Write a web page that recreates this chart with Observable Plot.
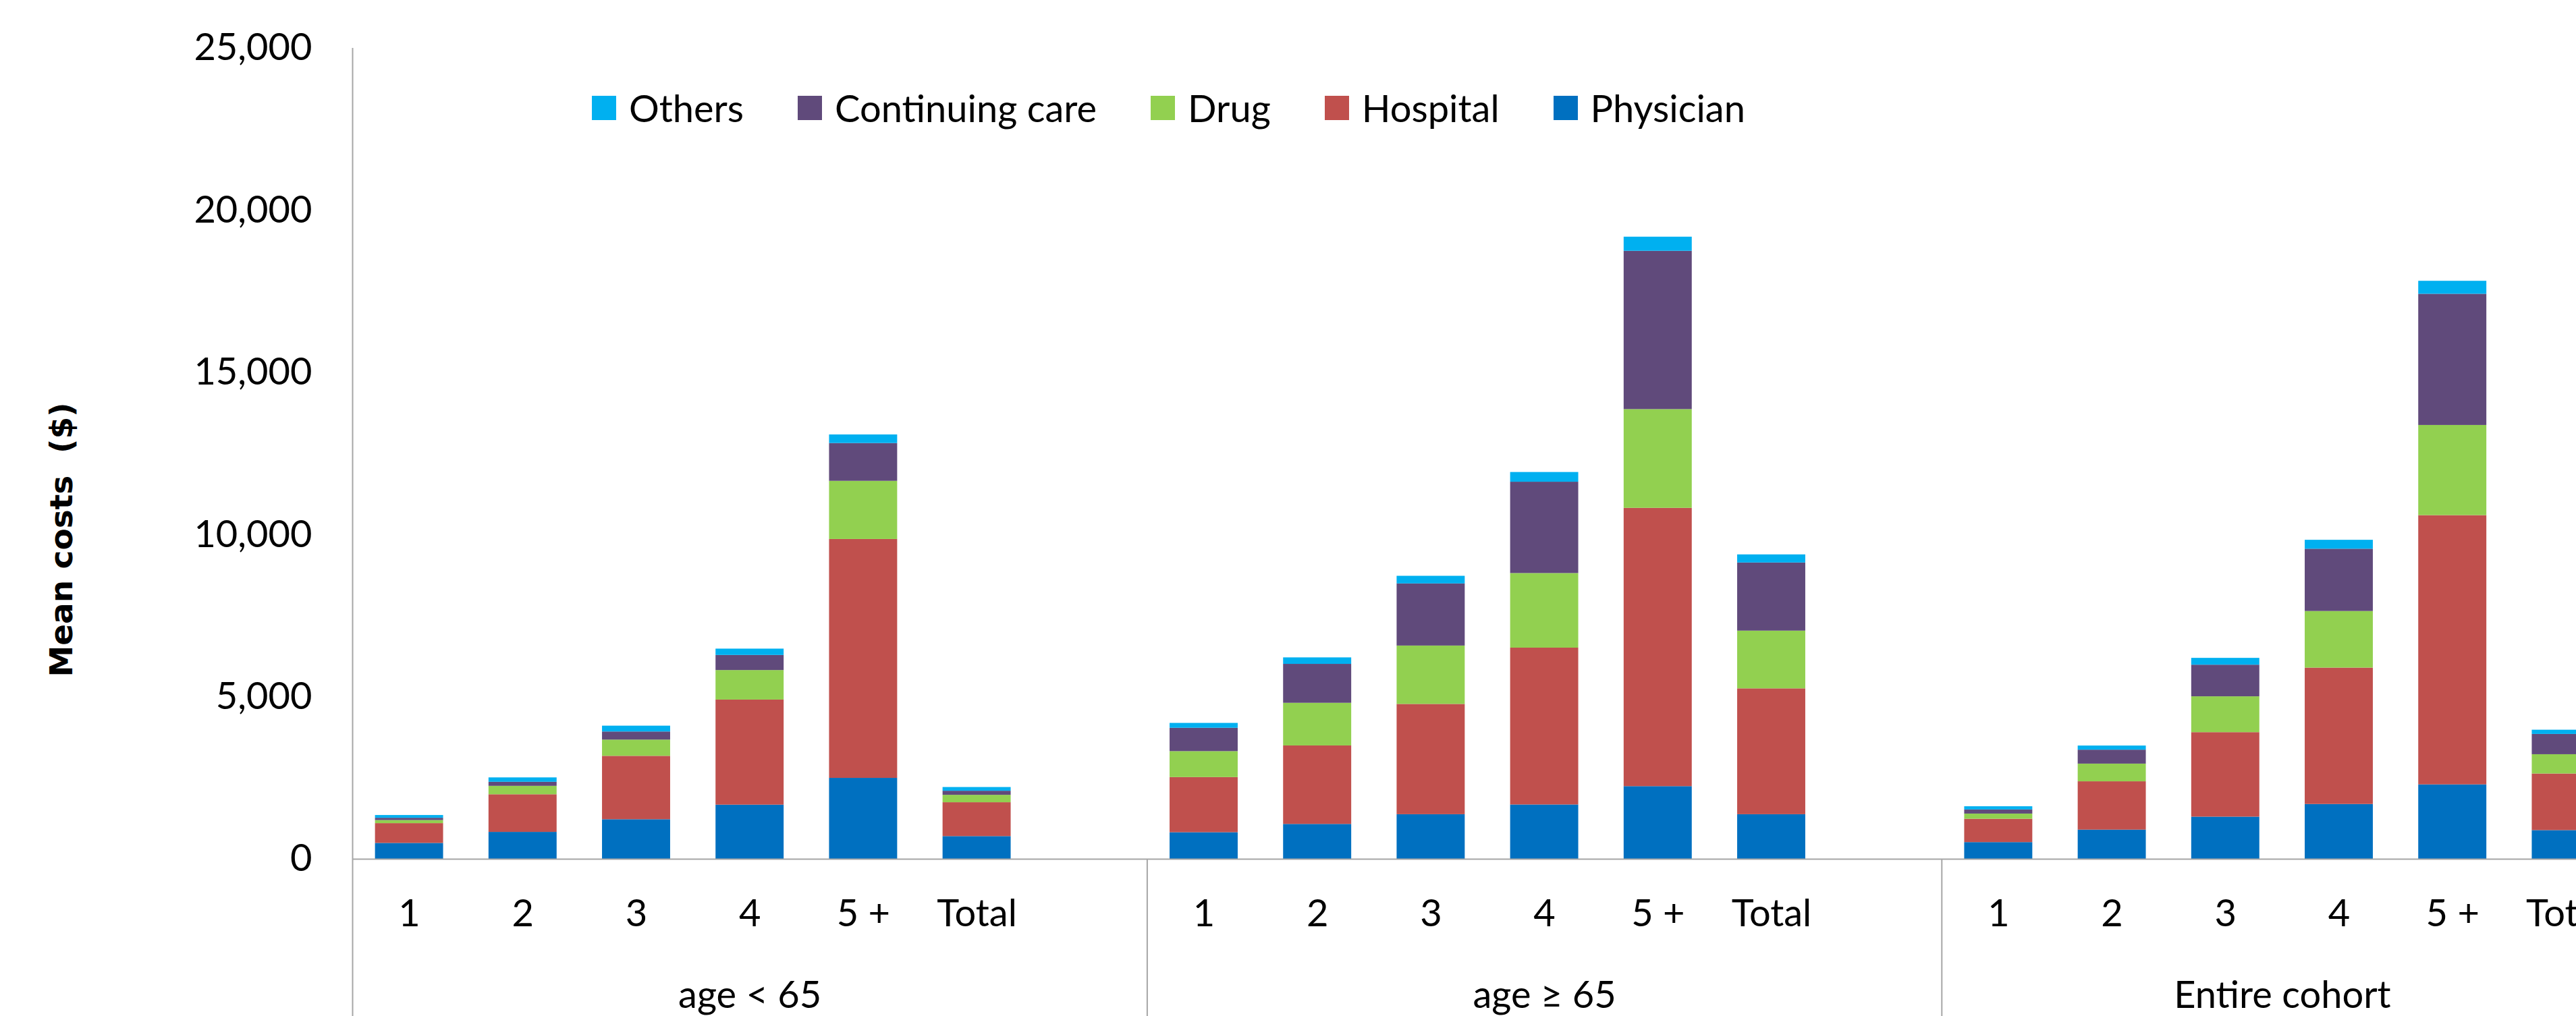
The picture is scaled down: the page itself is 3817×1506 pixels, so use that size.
<!DOCTYPE html>
<html>
<head>
<meta charset="utf-8">
<script src="https://cdn.jsdelivr.net/npm/d3@7"></script>
<script src="https://cdn.jsdelivr.net/npm/@observablehq/plot@0.6"></script>
<style>
  html, body { margin: 0; padding: 0; overflow: hidden; background: #fff; }
  #wrap { position: relative; width: 3887px; height: 1506px; font-family: Lato, "Open Sans", sans-serif; }
  #legend { position: absolute; top: 142px; left: 877px; display: flex; align-items: center; gap: 80px;
            font-size: 56px; line-height: 36px; color: #000; white-space: nowrap; z-index: 2; }
  .item { display: flex; align-items: center; gap: 19px; }
  .sw { width: 36px; height: 36px; display: inline-block; }
  #ytitle { position: absolute; left: 90px; top: 800px; transform: translate(-50%, -50%) rotate(-90deg);
            font-family: "DejaVu Sans", Verdana, sans-serif; font-weight: bold; font-size: 47px;
            white-space: pre; color: #000; line-height: 1; z-index: 2; }
</style>
</head>
<body>
<div id="wrap"><div id="legend"></div><div id="ytitle"></div></div>
<script>
// ---- data ----
const groups = ["age < 65", "age \u2265 65", "Entire cohort"];
const categories = ["1", "2", "3", "4", "5 +", "Total"];
// the first two groups carry a trailing blank category on the axis
const groupCategories = [[...categories, ""], [...categories, ""], [...categories]];
const series = ["Physician", "Hospital", "Drug", "Continuing care", "Others"];
const colors = ["#0070C0", "#C0504D", "#92D050", "#604A7B", "#00B0F0"];
const yTicks = [0, 5000, 10000, 15000, 20000, 25000];
const yTitle = "Mean costs  ($)";

// values by group (age<65, age>=65, entire) x category (1,2,3,4,5+,Total)
const physician  = [490, 830, 1220, 1670, 2495, 700,   820, 1075, 1375, 1675, 2240, 1375,   515, 900, 1300, 1690, 2295, 885];
const hospital   = [610, 1160, 1955, 3240, 7365, 1045, 1700, 2420, 3400, 4835, 8580, 3880,   720, 1490, 2605, 4205, 8300, 1745];
const drug       = [95, 260, 500, 910, 1793, 228,      800, 1315, 1800, 2300, 3045, 1780,   160, 545, 1105, 1745, 2780, 595];
const continuing = [70, 125, 250, 465, 1166, 125,      720, 1200, 1915, 2815, 4880, 2100,   127, 430, 975, 1920, 4045, 625];
const others     = [85, 135, 180, 195, 264, 115,       150, 200, 235, 300, 435, 250,        98, 127, 210, 275, 400, 130];
const seriesValues = [physician, hospital, drug, continuing, others];

// ---- build tables ----
const rows = [], labelRows = [], groupRows = [], boundaries = [];
let slot = 0;
groups.forEach((g, gi) => {
  const start = slot;
  groupCategories[gi].forEach((c, ci) => {
    if (c !== "") {
      const k = gi * categories.length + ci;
      series.forEach((s, si) => rows.push({group: g, cat: c, slot, series: s, value: seriesValues[si][k]}));
      labelRows.push({slot, cat: c});
    }
    slot++;
  });
  groupRows.push({group: g, center: (start + slot - 1) / 2});
  if (gi < groups.length - 1) boundaries.push(slot - 0.5);
});
const xDomain = [-0.5, slot - 0.5];

// ---- layout ----
const W = 3887, H = 1506, ML = 522, MR = 1, MT = 71, MB = 233;
const step = (W - ML - MR) / slot;
const inset = step * 0.2;
const axisColor = "#a6a6a6";

const chart = Plot.plot({
  width: W, height: H,
  marginLeft: ML, marginRight: MR, marginTop: MT, marginBottom: MB,
  style: {fontFamily: "Lato, 'Open Sans', sans-serif", fontSize: "56px", color: "#000", background: "transparent"},
  x: {type: "linear", domain: xDomain, axis: null},
  y: {domain: [0, 25000], axis: null},
  color: {domain: series, range: colors},
  marks: [
    Plot.axisY({ticks: yTicks, tickFormat: d3.format(","), tickSize: 0, tickPadding: 60, fontSize: 56, label: null}),
    Plot.rectY(rows, {
      x1: d => d.slot - 0.5, x2: d => d.slot + 0.5, y: "value",
      fill: "series", order: series, insetLeft: inset, insetRight: inset
    }),
    Plot.ruleY([0], {stroke: axisColor, strokeWidth: 2}),
    Plot.ruleX([xDomain[0]], {stroke: axisColor, strokeWidth: 2, insetBottom: -MB}),
    Plot.ruleX(boundaries, {stroke: axisColor, strokeWidth: 2, insetTop: H - MT - MB, insetBottom: -MB}),
    Plot.text(labelRows, {x: "slot", text: "cat", frameAnchor: "bottom", lineAnchor: "middle", dy: 82, fontSize: 56}),
    Plot.text(groupRows, {x: "center", text: "group", frameAnchor: "bottom", lineAnchor: "middle", dy: 203, fontSize: 56})
  ]
});
const wrap = document.getElementById("wrap");
wrap.insertBefore(chart, wrap.firstChild);
document.getElementById("ytitle").textContent = yTitle;

// ---- legend ----
const legend = d3.select("#legend");
series.slice().reverse().forEach(s => {
  const it = legend.append("div").attr("class", "item");
  it.append("span").attr("class", "sw").style("background", colors[series.indexOf(s)]);
  it.append("span").text(s);
});
</script>
</body>
</html>
